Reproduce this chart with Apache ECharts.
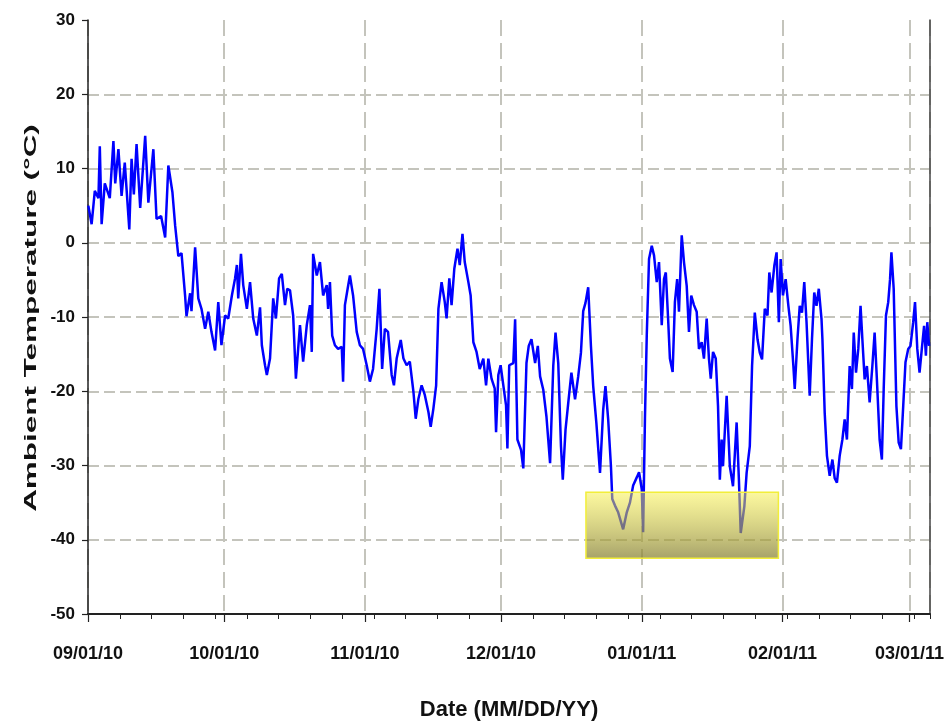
<!DOCTYPE html>
<html>
<head>
<meta charset="utf-8">
<script src="https://cdn.jsdelivr.net/npm/echarts@6/dist/echarts.min.js"></script>
<style>
  html, body { margin: 0; padding: 0; background: #ffffff; }
  #chart { width: 945px; height: 726px; }
</style>
</head>
<body>
<div id="chart"></div>
<script>
// ---- data ----
// days since 09/01/10 00:00
const dayOffsets = [
  0.07,0.8,1.5,2.3,2.6,3.0,3.7,4.8,5.6,6.0,6.7,7.4,8.1,9.1,9.6,10.1,10.7,11.5,12.6,13.3,
  14.4,15.1,16.1,17.0,17.7,18.6,19.2,19.9,20.6,21.4,21.7,22.5,22.8,23.6,24.3,25.0,25.8,26.5,27.2,28.0,
  28.7,29.4,30.2,30.9,31.7,32.4,32.8,33.1,33.7,34.2,35.0,35.7,36.4,37.2,37.9,38.3,39.0,39.4,40.1,40.8,
  41.4,42.1,42.7,43.4,43.9,44.5,45.2,45.8,46.7,47.4,48.2,48.9,49.3,49.6,50.4,51.1,51.8,52.6,52.9,53.3,
  53.8,54.4,55.1,55.9,56.2,56.6,57.2,57.7,58.4,59.2,59.9,60.6,61.4,62.1,62.8,63.6,64.2,64.8,65.4,66.1,
  66.9,67.4,68.0,68.9,69.5,70.2,70.9,71.7,72.2,72.8,73.5,74.2,75.0,75.5,76.1,76.7,77.2,77.9,78.6,79.0,
  79.6,80.1,80.7,81.4,81.9,82.5,83.0,83.8,84.3,84.9,85.6,86.3,87.1,87.7,88.2,88.9,89.6,89.9,90.4,90.9,
  91.5,92.1,92.4,92.8,93.7,94.1,94.6,95.4,95.9,96.6,97.1,97.7,98.5,99.1,99.6,100.3,101.0,101.8,102.5,103.0,
  103.6,104.2,104.6,105.2,105.8,106.5,107.3,108.0,108.6,109.1,109.6,110.2,110.8,111.3,112.0,112.8,113.5,114.0,114.6,115.2,
  115.5,116.1,116.8,117.9,118.7,119.4,120.1,120.9,121.4,122.0,122.3,122.7,123.1,123.6,124.2,124.7,125.3,125.8,126.4,126.9,
  127.3,127.8,128.2,128.8,129.3,129.8,130.2,130.8,131.3,131.9,132.4,132.9,133.5,134.1,134.6,135.2,135.7,136.3,136.8,137.2,
  137.7,138.3,138.8,139.2,139.6,139.9,140.7,141.4,142.1,142.9,143.4,143.8,144.6,145.1,145.8,146.3,146.9,147.5,148.0,148.5,
  149.1,149.7,150.1,150.6,151.2,151.7,152.2,152.6,153.1,153.7,154.3,154.8,155.4,155.7,156.3,156.8,157.3,157.8,158.3,159.0,
  159.5,160.0,160.5,161.0,161.6,161.8,162.3,162.8,163.4,164.0,164.5,165.0,165.6,166.2,166.7,167.2,167.8,168.3,168.7,169.2,
  169.7,170.2,170.6,171.1,171.6,172.2,172.8,173.3,173.8,174.4,174.9,175.3,175.8,176.3,176.7,177.0,177.5,178.1,178.6,179.1,
  179.6,180.1,180.7,181.2,181.8,182.2,182.7,183.2,183.7,184.2,184.6,184.9,185.3
];
// ambient temperature, deg C
const temperatures = [
  5.0,2.5,7.0,6.0,13.0,2.5,8.0,6.0,13.7,8.0,12.6,6.3,10.8,1.8,11.3,6.5,13.3,4.7,14.4,5.4,
  12.6,3.2,3.6,0.7,10.4,6.8,2.3,-1.8,-1.4,-7.2,-9.9,-6.8,-9.2,-0.6,-7.5,-8.9,-11.6,-9.3,-12.0,-14.5,
  -8.0,-13.8,-9.8,-10.2,-7.1,-4.8,-3.0,-7.5,-1.5,-5.7,-8.9,-5.3,-10.2,-12.5,-8.7,-13.8,-16.5,-17.8,-15.6,-7.5,
  -10.2,-4.8,-4.2,-8.4,-6.2,-6.4,-9.8,-18.3,-11.1,-16.0,-11.1,-8.4,-14.7,-1.5,-4.4,-2.6,-7.1,-5.7,-8.9,-5.3,
  -12.5,-13.8,-14.3,-14.0,-18.7,-8.4,-6.2,-4.4,-7.1,-12.0,-13.8,-14.3,-16.5,-18.7,-17.0,-11.6,-6.2,-17.0,-11.6,-12.0,
  -17.8,-19.2,-15.6,-13.1,-15.6,-16.5,-16.0,-20.1,-23.7,-21.0,-19.2,-20.5,-22.8,-24.8,-22.3,-19.2,-8.9,-5.3,-8.0,-10.2,
  -4.8,-8.4,-3.5,-0.8,-3.0,1.2,-2.6,-5.3,-7.1,-13.4,-14.7,-17.0,-15.6,-19.2,-15.6,-18.3,-19.6,-25.5,-17.8,-16.5,
  -19.2,-21.9,-27.7,-16.5,-16.2,-10.3,-26.5,-27.9,-30.4,-16.2,-13.9,-13.0,-16.2,-13.9,-18.0,-19.8,-23.4,-29.7,-16.6,-12.1,
  -16.2,-27.4,-31.9,-25.2,-21.6,-17.5,-21.1,-18.0,-14.8,-9.2,-8.1,-6.0,-13.9,-19.3,-24.3,-31.0,-22.5,-19.3,-23.8,-30.0,
  -34.5,-35.4,-36.3,-38.6,-36.3,-35.0,-32.7,-31.6,-30.9,-33.2,-39.0,-23.7,-12.5,-2.2,-0.4,-1.7,-5.3,-2.6,-11.1,-4.9,
  -4.0,-10.2,-15.6,-17.4,-8.0,-4.9,-9.3,1.0,-2.6,-5.8,-12.0,-7.1,-8.4,-9.3,-14.3,-13.4,-15.6,-10.2,-15.6,-18.3,
  -14.7,-15.6,-22.0,-31.9,-26.5,-30.1,-20.6,-30.1,-32.8,-24.2,-31.9,-39.1,-35.5,-31.0,-27.4,-16.6,-9.4,-13.0,-14.8,-15.7,
  -8.9,-9.8,-4.0,-6.7,-3.1,-1.3,-10.7,-2.2,-7.1,-4.9,-8.5,-11.2,-16.6,-19.7,-13.0,-8.5,-9.4,-5.3,-10.7,-20.6,
  -13.0,-6.7,-8.5,-6.2,-10.3,-13.0,-22.9,-28.7,-31.4,-29.2,-31.7,-32.3,-28.7,-26.5,-23.8,-26.5,-16.6,-19.7,-12.1,-17.5,
  -14.3,-8.5,-13.0,-18.4,-16.6,-21.5,-16.6,-12.1,-18.4,-26.5,-29.2,-19.7,-9.8,-8.0,-4.9,-1.3,-6.2,-22.0,-26.9,-27.8,
  -22.0,-16.1,-14.3,-13.9,-10.7,-8.0,-14.3,-17.5,-14.3,-11.2,-15.2,-10.7,-13.9
];
// highlighted cold region (days since 09/01/10, deg C)
const highlightDays = [109.7, 152.1];
const highlightTemps = [-33.6, -42.5];
// axis settings
const yTicks = { min: -50, max: 30, interval: 10 };
const xEndDay = 185.5;
const weekTickInterval = 7;

const START = new Date(2010, 8, 1).getTime();
const DAY = 86400000;
const seriesData = dayOffsets.map((d, i) => [START + d * DAY, temperatures[i]]);

function pad(n) { return (n < 10 ? '0' : '') + n; }
const FONT = "'Liberation Sans', Arial, sans-serif";

const chart = echarts.init(document.getElementById('chart'), null, { renderer: 'canvas' });
chart.setOption({
  animation: false,
  backgroundColor: '#ffffff',
  grid: { left: 88, right: 15, top: 20, bottom: 112, outerBoundsMode: 'none' },
  xAxis: [{
    type: 'time',
    min: START,
    max: START + xEndDay * DAY,
    splitNumber: 7,
    maxInterval: 31 * DAY,
    name: 'Date (MM/DD/YY)',
    nameLocation: 'middle',
    nameGap: 85,
    nameTextStyle: { fontFamily: FONT, fontWeight: 'bold', fontSize: 22, color: '#111' },
    axisLine: { show: true, onZero: false, lineStyle: { color: '#222', width: 2 } },
    axisTick: { show: true, length: 8, lineStyle: { color: '#222', width: 1.2 } },
    axisLabel: {
      margin: 31,
      fontFamily: FONT, fontWeight: 'bold', fontSize: 18, color: '#111',
      hideOverlap: false,
      formatter: function (v) {
        const d = new Date(v);
        return pad(d.getMonth() + 1) + '/' + pad(d.getDate()) + '/' + pad(d.getFullYear() % 100);
      }
    },
    splitLine: { show: true, lineStyle: { color: '#c4c4bc', width: 2, type: [16, 7] } }
  }, {
    // weekly minor ticks (days since 09/01/10)
    type: 'value',
    position: 'bottom',
    min: 0, max: xEndDay, interval: weekTickInterval,
    axisLine: { show: false, onZero: false },
    axisTick: { show: true, length: 5, lineStyle: { color: '#222', width: 1 } },
    axisLabel: { show: false },
    splitLine: { show: false }
  }],
  yAxis: [{
    type: 'value',
    min: yTicks.min, max: yTicks.max, interval: yTicks.interval,
    axisLine: { show: true, lineStyle: { color: '#222', width: 1.5 } },
    axisTick: { show: true, length: 6, lineStyle: { color: '#222', width: 1.2 } },
    axisLabel: { margin: 13, fontFamily: FONT, fontWeight: 'bold', fontSize: 17, color: '#111' },
    splitLine: { show: true, showMaxLine: false, lineStyle: { color: '#c4c4bc', width: 2, type: [11, 5] } }
  }, {
    type: 'value', position: 'right',
    min: yTicks.min, max: yTicks.max, interval: yTicks.interval,
    axisLine: { show: true, lineStyle: { color: '#444', width: 1.5 } },
    axisTick: { show: false }, axisLabel: { show: false }, splitLine: { show: false }
  }],
  graphic: [{
    type: 'text',
    x: 31, y: 318,
    rotation: Math.PI / 2,
    scaleX: 1.85,
    style: {
      text: 'Ambient Temperature (°C)',
      fontFamily: FONT,
      fontWeight: 'bold', fontSize: 17, fill: '#111',
      align: 'center', verticalAlign: 'middle'
    }
  }],
  series: [{
    type: 'line',
    xAxisIndex: 0,
    yAxisIndex: 0,
    data: seriesData,
    showSymbol: false,
    symbol: 'none',
    lineStyle: { color: '#0000ff', width: 2.5 },
    z: 2,
    markArea: {
      silent: true,
      z: 5,
      itemStyle: {
        color: {
          type: 'linear', x: 0, y: 0, x2: 0, y2: 1,
          colorStops: [
            { offset: 0, color: 'rgba(249,241,65,0.5)' },
            { offset: 1, color: 'rgba(131,125,48,0.72)' }
          ]
        },
        borderColor: '#f2ee3a', borderWidth: 1.5
      },
      data: [[
        { coord: [START + highlightDays[0] * DAY, highlightTemps[0]] },
        { coord: [START + highlightDays[1] * DAY, highlightTemps[1]] }
      ]]
    }
  }]
});
</script>
</body>
</html>
